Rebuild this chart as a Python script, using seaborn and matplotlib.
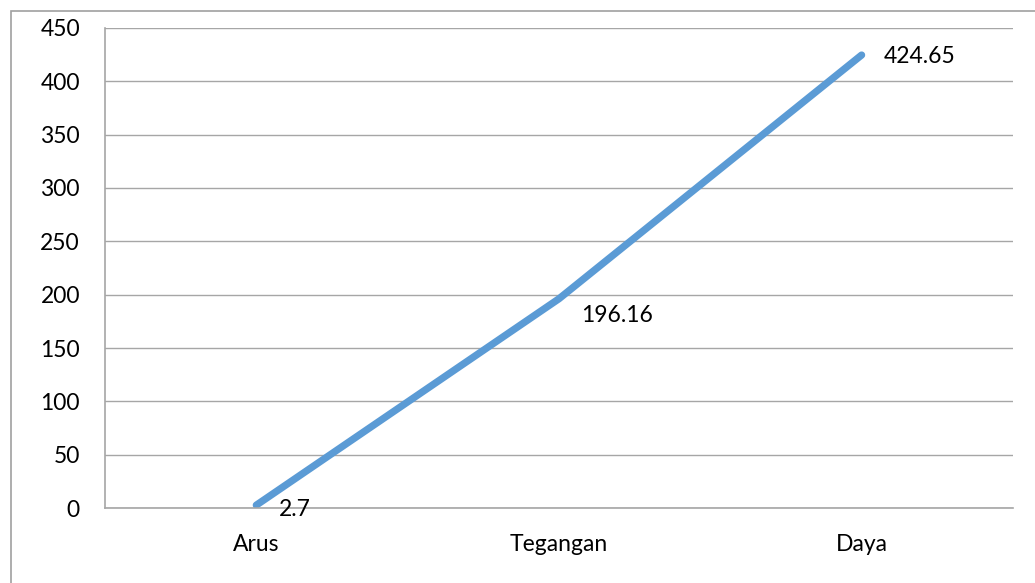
import pandas as pd
import seaborn as sns
import matplotlib.pyplot as plt
from matplotlib.patches import Rectangle

categories = ["Arus", "Tegangan", "Daya"]
values = [2.7, 196.16, 424.65]
value_labels = ["2.7", "196.16", "424.65"]

data = pd.DataFrame({"kategori": categories, "nilai": values})

sns.set_style("white")
plt.rcParams["font.family"] = ["Lato", "DejaVu Sans"]

fig = plt.figure(figsize=(10.35, 5.83), dpi=100)
ax = fig.add_axes([0.1014, 0.1286, 0.8773, 0.8234])

sns.lineplot(x="kategori", y="nilai", data=data, sort=False, color="#5B9BD5",
             linewidth=5.2, solid_capstyle="round", solid_joinstyle="round", ax=ax)

# data labels to the right of each point
offsets = [(16, -3), (16, -12), (16, -1)]
for i, (v, lab) in enumerate(zip(values, value_labels)):
    ax.annotate(lab, (i, v), xytext=offsets[i], textcoords="offset points",
                ha="left", va="center", fontsize=16.5, color="black")

ax.set_xlim(-0.5, 2.5)
ax.set_ylim(0, 450)
ax.set_yticks(range(0, 451, 50))
ax.yaxis.grid(True, color="#A6A6A6", linewidth=1)
ax.set_axisbelow(True)
ax.set_xlabel("")
ax.set_ylabel("")
ax.tick_params(axis="both", length=0, labelsize=16.5, colors="black")
ax.tick_params(axis="y", pad=18)
ax.tick_params(axis="x", pad=19)
for s in ["top", "right"]:
    ax.spines[s].set_visible(False)
for s in ["left", "bottom"]:
    ax.spines[s].set_color("#A6A6A6")
    ax.spines[s].set_linewidth(1.2)

# outer chart border (extends past the right and bottom edges)
fig.patches.append(Rectangle((10.5 / 1035, -0.1), 1.2, 1.1 - 11.5 / 583,
                             transform=fig.transFigure, fill=False,
                             edgecolor="#A0A0A0", linewidth=1.2))

fig.savefig("out.png", dpi=100)
